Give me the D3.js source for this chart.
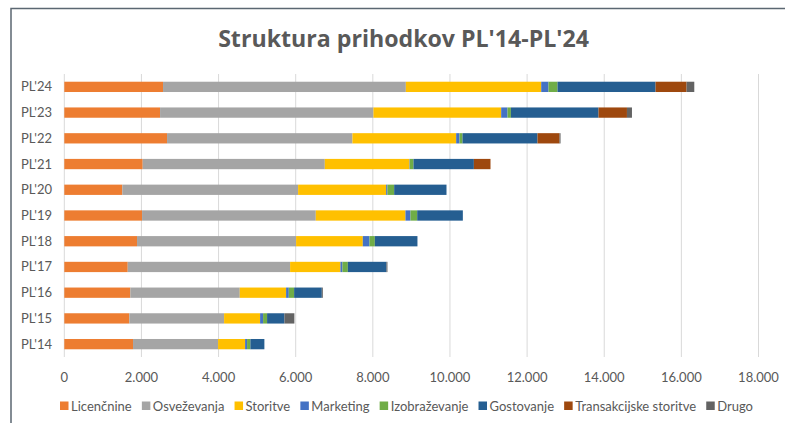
<!DOCTYPE html>
<meta charset="utf-8">
<style>
  body { margin: 0; background: #fff; }
  text { font-family: Lato, "Open Sans", sans-serif; fill: #595959; }
</style>
<script src="https://d3js.org/d3.v7.min.js"></script>
<svg id="chart" width="785" height="423"></svg>
<script>

// data (PL'14 .. PL'24)
var years = ["PL'14", "PL'15", "PL'16", "PL'17", "PL'18", "PL'19", "PL'20", "PL'21", "PL'22", "PL'23", "PL'24"];
var seriesNames = ["Licenčnine", "Osveževanja", "Storitve", "Marketing", "Izobraževanje", "Gostovanje", "Transakcijske storitve", "Drugo"];
var licencnine    = [1782, 1686, 1712, 1645, 1886, 2016, 1505, 2033, 2664, 2483, 2560];
var osvezevanja   = [2205, 2457, 2838, 4210, 4124, 4505, 4557, 4722, 4807, 5533, 6296];
var storitve      = [701, 934, 1201, 1305, 1730, 2325, 2283, 2195, 2690, 3312, 3510];
var marketing     = [51, 77, 70, 52, 172, 130, 34, 10, 86, 164, 189];
var izobrazevanje = [86, 104, 138, 140, 140, 174, 174, 94, 78, 88, 234];
var gostovanje    = [363, 449, 718, 1001, 1105, 1184, 1357, 1566, 1945, 2272, 2542];
var transakcijske = [0, 0, 0, 0, 0, 0, 0, 431, 571, 737, 804];
var drugo         = [0, 259, 26, 26, 0, 0, 0, 0, 26, 130, 200];
var xTicks = [0, 2000, 4000, 6000, 8000, 10000, 12000, 14000, 16000, 18000];
var colors = ["#ED7D31", "#A5A5A5", "#FFC000", "#4472C4", "#70AD47", "#255E91", "#9E480E", "#636363"];

var allSeries = [licencnine, osvezevanja, storitve, marketing, izobrazevanje, gostovanje, transakcijske, drugo];
var rows = years.map(function(y, i) {
  var r = { year: y };
  seriesNames.forEach(function(s, k) { r[s] = allSeries[k][i]; });
  return r;
});

var svg = d3.select("#chart");

// frame (top and left edges visible)
svg.append("path")
  .attr("d", "M11,423V8.5H785")
  .attr("fill", "none")
  .attr("stroke", "#5b6772")
  .attr("stroke-width", 1.5);

var x = d3.scaleLinear().domain([0, 18000]).range([64.3, 758.5]);
var y = d3.scaleBand().domain(years.slice().reverse()).range([74, 357])
  .paddingInner(0.6).paddingOuter(0.3);

var fmt = d3.formatLocale({ decimal: ",", thousands: ".", grouping: [3], currency: ["", ""] }).format(",");

// grid
svg.append("g").selectAll("line")
  .data(xTicks)
  .enter().append("line")
    .attr("x1", function(d) { return x(d); })
    .attr("x2", function(d) { return x(d); })
    .attr("y1", 74).attr("y2", 357)
    .attr("stroke", "#d9d9d9")
    .attr("stroke-width", 1);

// x tick labels
svg.append("g").selectAll("text")
  .data(xTicks)
  .enter().append("text")
    .attr("x", function(d) { return x(d); })
    .attr("y", 382)
    .attr("text-anchor", "middle")
    .style("font-size", "13px")
    .text(function(d) { return fmt(d); });

// y labels
svg.append("g").selectAll("text")
  .data(years)
  .enter().append("text")
    .attr("x", 52)
    .attr("y", function(d) { return y(d) + y.bandwidth() / 2 + 4.5; })
    .attr("text-anchor", "end")
    .style("font-size", "13px")
    .text(function(d) { return d; });

// stacked bars
var stacked = d3.stack().keys(seriesNames)(rows);
svg.append("g").selectAll("g")
  .data(stacked)
  .enter().append("g")
    .attr("fill", function(d, i) { return colors[i]; })
  .selectAll("rect")
  .data(function(d) { return d; })
  .enter().append("rect")
    .attr("x", function(d) { return x(d[0]); })
    .attr("width", function(d) { return x(d[1]) - x(d[0]); })
    .attr("y", function(d) { return y(d.data.year); })
    .attr("height", y.bandwidth());

// title, fitted to the width seen in the reference
var title = svg.append("text")
  .attr("x", 403.5)
  .attr("y", 47)
  .attr("text-anchor", "middle")
  .style("font-family", "'Open Sans', sans-serif")
  .style("font-weight", "bold")
  .style("font-size", "100px")
  .text("Struktura prihodkov PL'14-PL'24");
var tw = title.node().getComputedTextLength();
title.style("font-size", (100 * 371 / tw) + "px");

// legend, spread between x=60 and x=753
var lg = svg.append("g");
var items = lg.selectAll("g")
  .data(seriesNames)
  .enter().append("g");
items.append("rect")
  .attr("width", 8.5).attr("height", 8.5)
  .attr("y", 401.5)
  .attr("fill", function(d, i) { return colors[i]; });
items.append("text")
  .attr("x", 11)
  .attr("y", 410.5)
  .style("font-size", "13px")
  .text(function(d) { return d; });
var widths = [];
items.each(function() { widths.push(11 + d3.select(this).select("text").node().getComputedTextLength()); });
var gap = (693 - d3.sum(widths)) / (widths.length - 1);
var pos = 60;
items.each(function(d, i) {
  d3.select(this).attr("transform", "translate(" + pos + ",0)");
  pos += widths[i] + gap;
});

</script>
